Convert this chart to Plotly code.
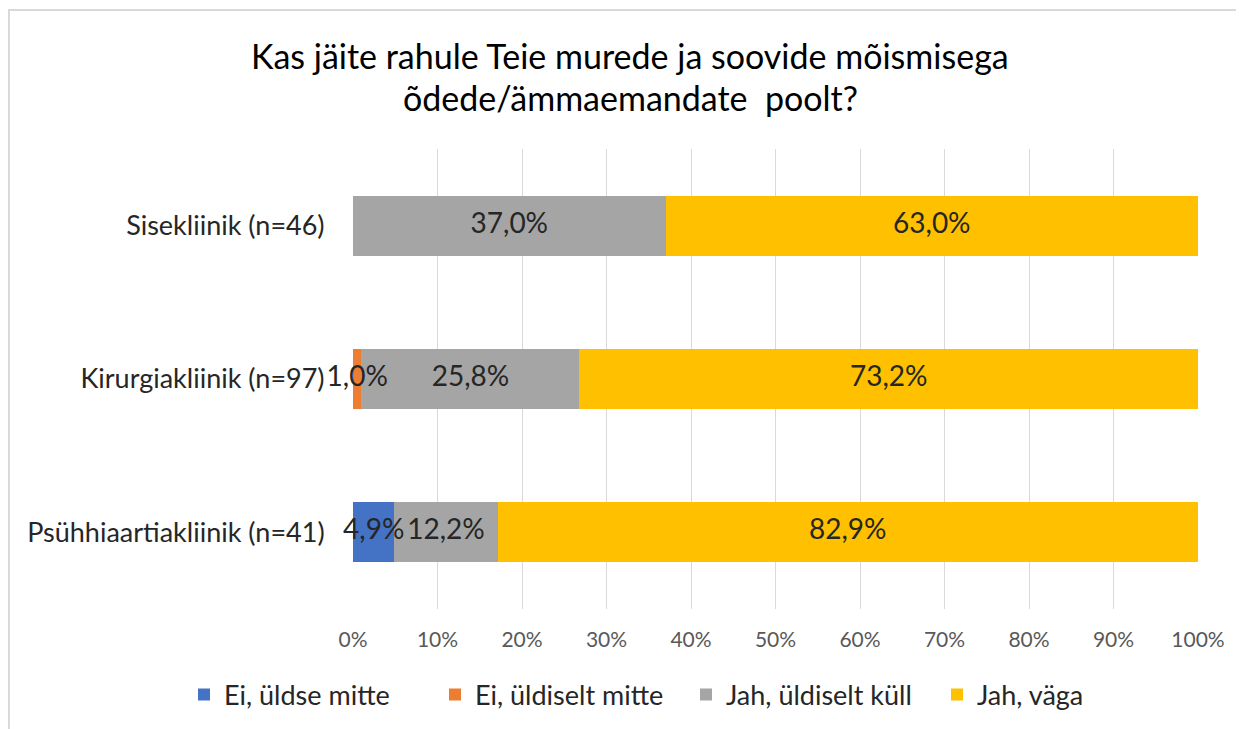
import plotly.graph_objects as go

categories = ["Sisekliinik (n=46)", "Kirurgiakliinik (n=97)", "Psühhiaartiakliinik (n=41)"]
series_names = ["Ei, üldse mitte", "Ei, üldiselt mitte", "Jah, üldiselt küll", "Jah, väga"]
ei_uldse = [0.0, 0.0, 4.9]
ei_uldiselt = [0.0, 1.0, 0.0]
jah_uldiselt = [37.0, 25.8, 12.2]
jah_vaga = [63.0, 73.2, 82.9]
tick_vals = [0, 10, 20, 30, 40, 50, 60, 70, 80, 90, 100]
tick_text = [f"{v}%" for v in tick_vals]

colors = ["#4472C4", "#ED7D31", "#A5A5A5", "#FFC000"]
FONT = "Lato"

def fmt(v):
    return "" if v == 0 else f"{v:.1f}".replace(".", ",") + "%"

series = [ei_uldse, ei_uldiselt, jah_uldiselt, jah_vaga]

fig = go.Figure()
for name, vals, col in zip(series_names, series, colors):
    fig.add_trace(go.Bar(
        y=categories, x=vals, name=name, orientation="h",
        marker=dict(color=col, line=dict(width=0)),
        hoverinfo="x+name",
    ))

# data labels drawn on top of all bars, centred in each segment
lab_x, lab_y, lab_t = [], [], []
for ci, cat in enumerate(categories):
    start = 0.0
    for vals in series:
        v = vals[ci]
        if v > 0:
            lab_x.append(start + v / 2)
            lab_y.append(cat)
            lab_t.append(fmt(v))
        start += v
fig.add_trace(go.Scatter(
    x=lab_x, y=lab_y, text=lab_t, mode="text", textposition="middle center",
    textfont=dict(size=28, color="#262626", family=FONT),
    showlegend=False, hoverinfo="skip", cliponaxis=False,
))

fig.update_layout(
    barmode="stack",
    bargap=0.61,
    width=1244, height=729,
    paper_bgcolor="white", plot_bgcolor="white",
    margin=dict(l=345, r=54, t=141, b=128),
    font=dict(family=FONT, color="#262626"),
    showlegend=True,
    legend=dict(orientation="h", x=(184 - 353) / 845, xanchor="left", y=-0.187, yanchor="middle",
                font=dict(size=27, color="#262626"), traceorder="normal",
                itemwidth=30, tracegroupgap=0, entrywidth=206, entrywidthmode="pixels"),
    xaxis=dict(range=[0, 100], tickvals=tick_vals, ticktext=tick_text,
               showgrid=True, gridcolor="#D9D9D9", gridwidth=1, zeroline=False,
               tickfont=dict(size=21, color="#595959"), ticks="outside",
               ticklen=12, tickcolor="rgba(0,0,0,0)", fixedrange=True),
    yaxis=dict(autorange="reversed", showgrid=False, tickfont=dict(size=27, color="#262626"),
               ticks="outside", ticklen=22, tickcolor="rgba(0,0,0,0)"),
)

fig.add_annotation(text="Kas jäite rahule Teie murede ja soovide mõismisega",
                   xref="paper", yref="paper", x=0.328, y=(609 - 55) / 460,
                   xanchor="center", yanchor="middle", showarrow=False,
                   font=dict(size=34, color="#000000", family=FONT))
fig.add_annotation(text="õdede/ämmaemandate  poolt?",
                   xref="paper", yref="paper", x=0.328, y=(609 - 97) / 460,
                   xanchor="center", yanchor="middle", showarrow=False,
                   font=dict(size=34, color="#000000", family=FONT))

fig.add_shape(type="rect", xref="paper", yref="paper",
              x0=(1 - 345) / 845, x1=(1300 - 345) / 845,
              y0=(601 - 800) / 460, y1=(601 - 2) / 460,
              line=dict(color="#D9D9D9", width=2), layer="below")

fig.write_html("out.html")
